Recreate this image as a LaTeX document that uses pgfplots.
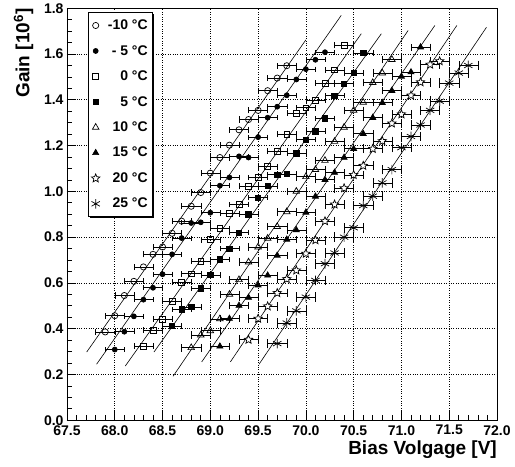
\documentclass[border=0pt]{standalone}
\usepackage{pgfplots}
\pgfplotsset{compat=1.18}
\usepackage{fontspec}
\setmainfont{Liberation Sans}
\usetikzlibrary{shadows}

% outlined five-pointed star
\pgfdeclareplotmark{ostar}{%
  \pgfpathmoveto{\pgfpointpolar{90}{\pgfplotmarksize}}%
  \pgfpathlineto{\pgfpointpolar{126}{0.45\pgfplotmarksize}}%
  \pgfpathlineto{\pgfpointpolar{162}{\pgfplotmarksize}}%
  \pgfpathlineto{\pgfpointpolar{198}{0.45\pgfplotmarksize}}%
  \pgfpathlineto{\pgfpointpolar{234}{\pgfplotmarksize}}%
  \pgfpathlineto{\pgfpointpolar{270}{0.45\pgfplotmarksize}}%
  \pgfpathlineto{\pgfpointpolar{306}{\pgfplotmarksize}}%
  \pgfpathlineto{\pgfpointpolar{342}{0.45\pgfplotmarksize}}%
  \pgfpathlineto{\pgfpointpolar{18}{\pgfplotmarksize}}%
  \pgfpathlineto{\pgfpointpolar{54}{0.45\pgfplotmarksize}}%
  \pgfpathclose
  \pgfusepathqfillstroke
}

\pgfplotsset{
  meas/.style={only marks, black, line width=0.7pt,
    error bars/x dir=both, error bars/x fixed=0.1,
    error bars/error bar style={line width=0.7pt, black}},
  fit/.style={black, line width=0.6pt, no marks, forget plot},
}

\begin{document}
\begin{tikzpicture}
\begin{axis}[
    scale only axis,
    width=430pt, height=412pt,
    xmin=67.5, xmax=72.0, ymin=0, ymax=1.8,
    xtick={67.5,68,...,72}, ytick={0,0.2,...,1.8},
    minor x tick num=4, minor y tick num=3,
    tick pos=left, tick align=inside,
    major tick length=9pt, minor tick length=5pt,
    axis line style={line width=0.9pt},
    every tick/.style={black, line width=0.7pt},
    grid=major,
    major grid style={dotted, black, line width=0.7pt},
    /pgf/number format/.cd, fixed, fixed zerofill, precision=1, assume math mode=true,
    /pgfplots/.cd,
    tick label style={font=\bfseries\fontsize{14}{14}\selectfont},
    xticklabel style={yshift=-1.5pt},
    xlabel={Bias Volgage [V]},
    ylabel={Gain [10\textsuperscript{6}]},
    label style={font=\bfseries\fontsize{19}{20}\selectfont},
    xlabel style={at={(axis description cs:1,-0.05)}, anchor=north east, inner sep=0pt},
    ylabel style={at={(axis description cs:-0.078,1)}, anchor=south east, inner sep=0pt},
    legend cell align=right,
    legend style={at={(axis description cs:0.049,0.99)}, anchor=north west,
      draw=black, line width=0.9pt, fill=white,
      font=\bfseries\fontsize{14}{16}\selectfont,
      row sep=10.2pt, column sep=6pt, inner xsep=3pt, inner ysep=5pt,
      drop shadow={shadow xshift=1.5pt, shadow yshift=-1.5pt, fill=black, opacity=1}},
    clip=false,
]
% fitted lines
\addplot[fit] coordinates {(67.706,0.298) (70.00,1.662)};
\addplot[fit] coordinates {(67.81,0.245) (70.37,1.769)};
\addplot[fit] coordinates {(68.11,0.237) (70.58,1.689)};
\addplot[fit] coordinates {(68.41,0.298) (70.79,1.689)};
\addplot[fit] coordinates {(68.61,0.192) (71.07,1.703)};
\addplot[fit] coordinates {(68.91,0.255) (71.35,1.725)};
\addplot[fit] coordinates {(69.21,0.255) (71.58,1.725)};
\addplot[fit] coordinates {(69.51,0.245) (71.89,1.717)};

% -10 C
\addplot[meas, mark=o, mark size=3.1pt, mark options={fill=white}] table {
x y
67.9 0.386
68.0 0.457
68.1 0.545
68.2 0.607
68.3 0.670
68.4 0.725
68.5 0.757
68.6 0.817
68.7 0.870
68.8 0.935
68.9 0.995
69.0 1.080
69.1 1.148
69.2 1.202
69.3 1.269
69.4 1.314
69.5 1.354
69.6 1.440
69.7 1.495
69.8 1.549
};
\addlegendentry{-10 °C}
% -5 C
\addplot[meas, mark=*, mark size=2.5pt] table {
x y
68.0 0.309
68.1 0.387
68.2 0.454
68.3 0.527
68.4 0.579
68.5 0.638
68.6 0.725
68.7 0.796
68.8 0.862
68.9 0.865
69.0 0.907
69.1 1.025
69.2 1.061
69.3 1.153
69.4 1.148
69.5 1.237
69.6 1.322
69.7 1.370
69.8 1.420
69.9 1.489
70.0 1.534
70.1 1.575
70.2 1.608
};
\addlegendentry{- 5 °C}
% 0 C
\addplot[meas, mark=square, mark size=2.9pt, mark options={fill=white}] table {
x y
68.3 0.323
68.4 0.393
68.5 0.441
68.6 0.520
68.7 0.603
68.8 0.640
68.9 0.696
69.0 0.789
69.1 0.838
69.2 0.903
69.3 0.943
69.4 1.022
69.5 1.061
69.6 1.108
69.7 1.175
69.8 1.250
69.9 1.342
70.0 1.365
70.1 1.399
70.2 1.473
70.3 1.531
70.4 1.638
};
\addlegendentry{0 °C}
% 5 C
\addplot[meas, mark=square*, mark size=2.7pt] table {
x y
68.6 0.412
68.7 0.485
68.8 0.495
68.9 0.576
69.0 0.635
69.1 0.703
69.2 0.750
69.3 0.820
69.4 0.900
69.5 0.972
69.6 1.023
69.7 1.073
69.8 1.076
69.9 1.167
70.0 1.226
70.1 1.263
70.2 1.319
70.3 1.418
70.4 1.470
70.5 1.517
70.6 1.604
};
\addlegendentry{5 °C}
% 10 C
\addplot[meas, mark=triangle, mark size=3.8pt, mark options={fill=white}] table {
x y
68.8 0.317
68.9 0.372
69.0 0.391
69.1 0.443
69.2 0.550
69.3 0.614
69.4 0.691
69.5 0.757
69.6 0.795
69.7 0.846
69.8 0.911
69.9 1.000
70.0 1.064
70.1 1.095
70.2 1.135
70.3 1.218
70.4 1.280
70.5 1.354
70.6 1.389
70.7 1.475
70.8 1.517
70.9 1.576
};
\addlegendentry{10 °C}
% 15 C
\addplot[meas, mark=triangle*, mark size=3.5pt] table {
x y
69.1 0.323
69.2 0.444
69.3 0.501
69.4 0.536
69.5 0.590
69.6 0.633
69.7 0.720
69.8 0.790
69.9 0.831
70.0 0.908
70.1 0.978
70.2 1.051
70.3 1.082
70.4 1.148
70.5 1.186
70.6 1.252
70.7 1.322
70.8 1.387
70.9 1.440
71.0 1.502
71.1 1.521
71.2 1.630
};
\addlegendentry{15 °C}
% 20 C
\addplot[meas, mark=ostar, mark size=4.4pt, mark options={fill=white}] table {
x y
69.4 0.352
69.5 0.444
69.6 0.498
69.7 0.556
69.8 0.617
69.9 0.655
70.0 0.728
70.1 0.787
70.2 0.870
70.3 0.943
70.4 1.014
70.5 1.072
70.6 1.112
70.7 1.186
70.8 1.220
70.9 1.297
71.0 1.337
71.1 1.419
71.2 1.477
71.3 1.554
71.4 1.569
};
\addlegendentry{20 °C}
% 25 C
\addplot[meas, mark=asterisk, mark size=4.8pt] table {
x y
69.7 0.335
69.8 0.425
69.9 0.478
70.0 0.538
70.1 0.611
70.2 0.684
70.3 0.731
70.4 0.800
70.5 0.841
70.6 0.938
70.7 0.979
70.8 1.037
70.9 1.095
71.0 1.191
71.1 1.240
71.2 1.290
71.3 1.354
71.4 1.394
71.5 1.473
71.6 1.517
71.7 1.550
};
\addlegendentry{25 °C}

% page margins as in the reference
\path (axis description cs:-0.1558,-0.1117) rectangle (axis description cs:1.0419,1.0194);
\end{axis}
\end{tikzpicture}
\end{document}
